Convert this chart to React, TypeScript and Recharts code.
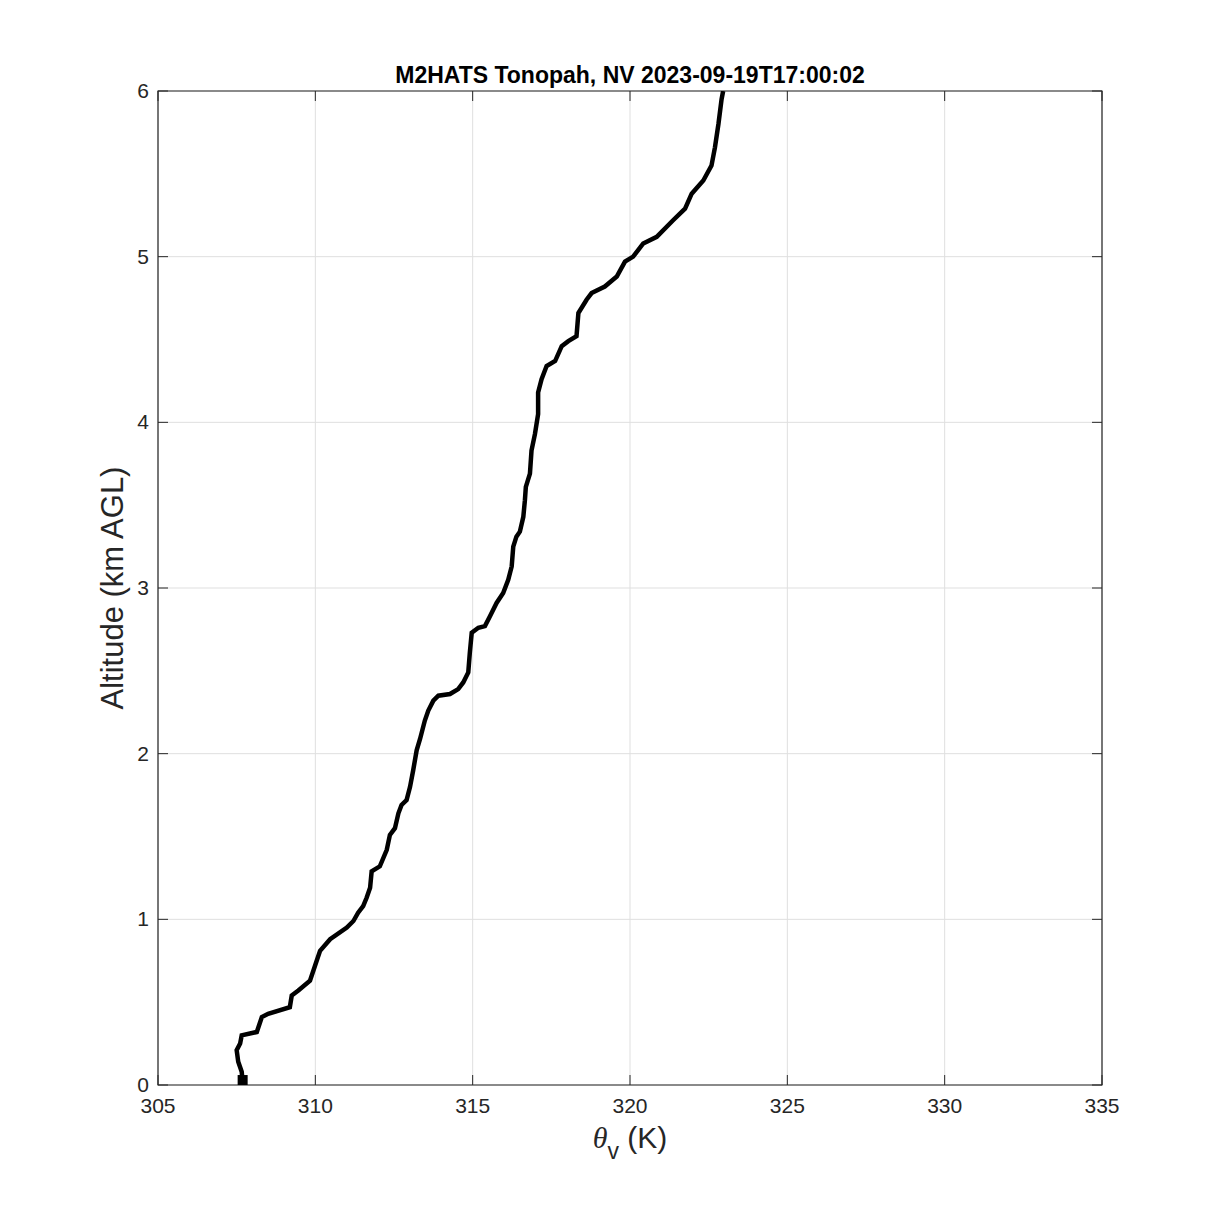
import React from "react";
import {
  ComposedChart, Line, Scatter, XAxis, YAxis, CartesianGrid, Label, ReferenceArea,
} from "recharts";

// virtual potential temperature (K) vs altitude (km AGL)
const thetaV = [
  307.70, 307.66, 307.55, 307.50, 307.61, 307.66, 308.14, 308.30, 308.50, 309.19,
  309.25, 309.46, 309.83, 309.99, 310.15, 310.47, 311.00, 311.21, 311.36, 311.52,
  311.63, 311.74, 311.79, 312.05, 312.27, 312.37, 312.53, 312.64, 312.74, 312.90,
  313.01, 313.11, 313.22, 313.33, 313.48, 313.59, 313.75, 313.91, 314.28, 314.54,
  314.70, 314.86, 314.91, 314.97, 315.18, 315.39, 315.55, 315.76, 315.97, 316.13,
  316.24, 316.29, 316.39, 316.50, 316.61, 316.66, 316.69, 316.82, 316.87, 316.98,
  317.08, 317.08, 317.19, 317.35, 317.62, 317.83, 318.04, 318.30, 318.36, 318.62,
  318.78, 319.20, 319.58, 319.84, 320.10, 320.42, 320.85, 321.37, 321.75, 321.96,
  322.33, 322.59, 322.70, 322.81, 322.91, 322.96,
];
const altKm = [
  0.00, 0.08, 0.14, 0.21, 0.25, 0.30, 0.32, 0.41, 0.43, 0.47,
  0.54, 0.57, 0.63, 0.72, 0.81, 0.88, 0.95, 0.99, 1.04, 1.08,
  1.13, 1.19, 1.29, 1.32, 1.42, 1.51, 1.55, 1.64, 1.69, 1.72,
  1.80, 1.90, 2.02, 2.09, 2.20, 2.26, 2.32, 2.35, 2.36, 2.39,
  2.43, 2.49, 2.61, 2.73, 2.76, 2.77, 2.83, 2.91, 2.97, 3.05,
  3.13, 3.25, 3.31, 3.34, 3.43, 3.53, 3.61, 3.69, 3.83, 3.93,
  4.05, 4.18, 4.26, 4.34, 4.37, 4.46, 4.49, 4.52, 4.66, 4.74,
  4.78, 4.82, 4.88, 4.97, 5.00, 5.08, 5.12, 5.22, 5.29, 5.38,
  5.46, 5.55, 5.66, 5.80, 5.95, 6.00,
];
// launch marker
const launchTheta = [307.69];
const launchAlt = [0.03];

const xTicks = [305, 310, 315, 320, 325, 330, 335];
const yTicks = [0, 1, 2, 3, 4, 5, 6];
const xDomain: [number, number] = [305, 335];
const yDomain: [number, number] = [0, 6];

const data = thetaV.map((t, i) => ({ theta: t, alt: altKm[i] }));
const launch = launchTheta.map((t, i) => ({ theta: t, alt: launchAlt[i] }));

const FONT = "'Liberation Sans', Arial, Helvetica, sans-serif";
const AXIS = "#262626";
const TICK_LEN = 10;

// plot box edges (page px)
const TOP = 91;
const BOTTOM = 1085;
const LEFT = 158;
const RIGHT = 1102;

const BottomTick = (props: any) => {
  const { x, payload } = props;
  return (
    <g>
      <line x1={x} x2={x} y1={BOTTOM} y2={BOTTOM - TICK_LEN} stroke={AXIS} />
      <line x1={x} x2={x} y1={TOP} y2={TOP + TICK_LEN} stroke={AXIS} />
      <text x={x} y={BOTTOM + 28} textAnchor="middle" fontSize={21} fill={AXIS} fontFamily={FONT}>
        {payload.value}
      </text>
    </g>
  );
};

const LeftTick = (props: any) => {
  const { y, payload } = props;
  return (
    <g>
      <line x1={LEFT} x2={LEFT + TICK_LEN} y1={y} y2={y} stroke={AXIS} />
      <line x1={RIGHT} x2={RIGHT - TICK_LEN} y1={y} y2={y} stroke={AXIS} />
      <text x={LEFT - 9} y={y + 7} textAnchor="end" fontSize={21} fill={AXIS} fontFamily={FONT}>
        {payload.value}
      </text>
    </g>
  );
};

const Square = (p: any) => (
  <rect x={p.cx - 5} y={p.cy - 5} width={10} height={10} fill="#000" />
);

export default function App() {
  return (
    <div style={{ position: "absolute", left: 0, top: 0, width: 1219, height: 1219, background: "#fff" }}>
      <ComposedChart
        width={1219}
        height={1219}
        data={data}
        margin={{ top: TOP, right: 1219 - RIGHT, bottom: 84, left: LEFT - 60 }}
      >
        <CartesianGrid stroke="#dfdfdf" />
        <XAxis
          dataKey="theta"
          type="number"
          domain={xDomain}
          ticks={xTicks}
          interval={0}
          allowDataOverflow
          height={50}
          tickSize={0}
          tickMargin={0}
          tickLine={false}
          axisLine={false}
          tick={<BottomTick />}
        >
          <Label
            content={(props: any) => {
              const vb = props.viewBox;
              const cx = vb.x + vb.width / 2;
              return (
                <text x={cx} y={1148} textAnchor="middle" fontSize={30} fill={AXIS} fontFamily={FONT}>
                  <tspan fontStyle="italic" fontFamily="'Liberation Serif', 'Times New Roman', serif">θ</tspan>
                  <tspan dy={11} fontSize={23}>v</tspan>
                  <tspan dy={-11}> (K)</tspan>
                </text>
              );
            }}
          />
        </XAxis>
        <YAxis
          dataKey="alt"
          type="number"
          domain={yDomain}
          ticks={yTicks}
          interval={0}
          allowDataOverflow
          width={60}
          tickSize={0}
          tickMargin={0}
          tickLine={false}
          axisLine={false}
          tick={<LeftTick />}
        >
          <Label
            content={(props: any) => {
              const vb = props.viewBox;
              const cy = vb.y + vb.height / 2;
              return (
                <g>
                  <text
                    x={123}
                    y={cy}
                    transform={`rotate(-90 123 ${cy})`}
                    textAnchor="middle"
                    fontSize={31}
                    fill={AXIS}
                    fontFamily={FONT}
                  >
                    Altitude (km AGL)
                  </text>
                  <text
                    x={(LEFT + RIGHT) / 2}
                    y={TOP - 8}
                    textAnchor="middle"
                    fontSize={23}
                    fontWeight="bold"
                    fill="#000"
                    fontFamily={FONT}
                  >
                    M2HATS Tonopah, NV 2023-09-19T17:00:02
                  </text>
                </g>
              );
            }}
          />
        </YAxis>
        <ReferenceArea
          x1={xDomain[0]}
          x2={xDomain[1]}
          y1={yDomain[0]}
          y2={yDomain[1]}
          fill="none"
          stroke={AXIS}
          strokeWidth={1.2}
          ifOverflow="visible"
        />
        <Line
          dataKey="alt"
          type="linear"
          stroke="#000"
          strokeWidth={4.5}
          dot={false}
          activeDot={false}
          isAnimationActive={false}
        />
        <Scatter
          data={launch}
          dataKey="alt"
          shape={Square}
          isAnimationActive={false}
        />
      </ComposedChart>
    </div>
  );
}
